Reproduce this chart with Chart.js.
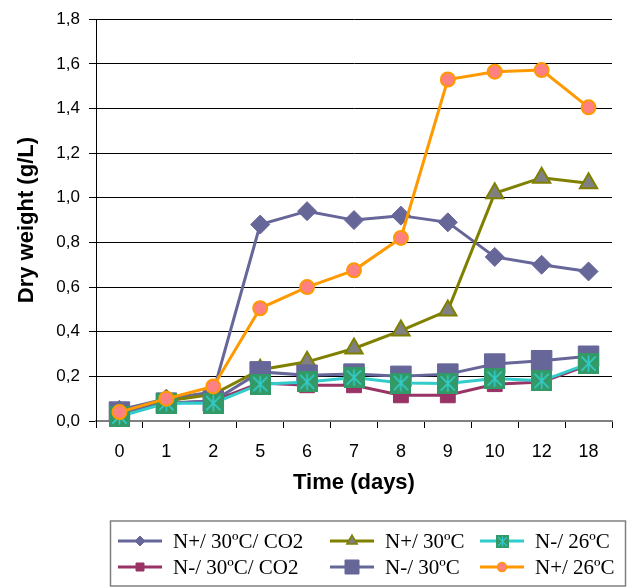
<!DOCTYPE html>
<html>
<head>
<meta charset="utf-8">
<script src="https://cdn.jsdelivr.net/npm/chart.js@4.4.0/dist/chart.umd.min.js"></script>
<style>
  html, body { margin: 0; padding: 0; background: #fff; }
  #wrap { width: 637px; height: 588px; }
</style>
</head>
<body>
<div id="wrap"><canvas id="c" width="637" height="588"></canvas></div>
<script>
// days on the x axis (category)
const days = ['0', '1', '2', '5', '6', '7', '8', '9', '10', '12', '18'];

// dry weight (g/L)
const nPlus30Co2  = [0.05, 0.10, 0.13, 0.88, 0.94, 0.90, 0.92, 0.89, 0.735, 0.70, 0.67];
const nMinus30Co2 = [0.03, 0.08, 0.09, 0.17, 0.16, 0.16, 0.115, 0.115, 0.165, 0.175, 0.25];
const nPlus30     = [0.03, 0.09, 0.12, 0.23, 0.265, 0.325, 0.405, 0.495, 1.02, 1.09, 1.065];
const nMinus30    = [0.04, 0.08, 0.09, 0.22, 0.205, 0.21, 0.20, 0.21, 0.255, 0.27, 0.29];
const nMinus26    = [0.02, 0.08, 0.08, 0.165, 0.175, 0.195, 0.17, 0.168, 0.19, 0.18, 0.257];
const nPlus26     = [0.04, 0.10, 0.155, 0.505, 0.60, 0.675, 0.82, 1.53, 1.565, 1.572, 1.405];

const seriesNames = ['N+/ 30ºC/ CO2', 'N-/ 30ºC/ CO2', 'N+/ 30ºC', 'N-/ 30ºC', 'N-/ 26ºC', 'N+/ 26ºC'];

const SANS = '"Liberation Sans", Arial, sans-serif';
const SERIF = '"Liberation Serif", "Times New Roman", serif';

function starBox(size) {
  const cv = document.createElement('canvas');
  cv.width = cv.height = size;
  const g = cv.getContext('2d');
  g.fillStyle = '#339966';
  g.fillRect(0, 0, size, size);
  g.strokeStyle = '#33CCCC';
  g.lineWidth = size > 16 ? 1.6 : 1.2;
  const m = size / 2, a = size * 0.34;
  g.beginPath();
  g.moveTo(m, m - a * 1.15); g.lineTo(m, m + a * 1.15);
  g.moveTo(m - a, m - a); g.lineTo(m + a, m + a);
  g.moveTo(m + a, m - a); g.lineTo(m - a, m + a);
  g.stroke();
  return cv;
}
const tealBig = starBox(21);
const tealSmall = starBox(13);

function mk(i, data, line, style, radius, fill, bw) {
  return {
    label: seriesNames[i],
    data: data,
    borderColor: line,
    borderWidth: 3,
    backgroundColor: fill,
    pointStyle: style,
    pointRadius: radius,
    pointBackgroundColor: fill,
    pointBorderColor: line,
    pointBorderWidth: bw,
    tension: 0,
    fill: false,
    clip: false,
    order: 10 - i
  };
}

const datasets = [
  mk(0, nPlus30Co2, '#666699', 'rectRot', 9.5, '#666699', 1),
  mk(1, nMinus30Co2, '#993366', 'rect', 10.5, '#993366', 1),
  mk(2, nPlus30, '#808000', 'triangle', 10, '#808080', 2),
  mk(3, nMinus30, '#666699', 'rect', 14.5, '#666699', 1),
  mk(4, nMinus26, '#33CCCC', tealBig, 10, '#339966', 1),
  mk(5, nPlus26, '#FF9900', 'circle', 7, '#FF8080', 2)
];

// legend marker sizes (half sizes)
const legendMarks = [
  { style: 'diamond', r: 5 },
  { style: 'square', r: 4 },
  { style: 'triangle', r: 6 },
  { style: 'square', r: 7 },
  { style: 'image', img: tealSmall },
  { style: 'circle', r: 4.5 }
];

function drawMark(c, m, ds, x, y) {
  c.fillStyle = ds.pointBackgroundColor;
  c.strokeStyle = ds.pointBorderColor;
  c.lineWidth = ds.pointBorderWidth > 1 ? 1.5 : 1;
  c.beginPath();
  if (m.style === 'diamond') {
    c.moveTo(x - m.r, y); c.lineTo(x, y - m.r); c.lineTo(x + m.r, y); c.lineTo(x, y + m.r); c.closePath();
  } else if (m.style === 'square') {
    c.rect(x - m.r, y - m.r, 2 * m.r, 2 * m.r);
  } else if (m.style === 'triangle') {
    c.moveTo(x, y - m.r); c.lineTo(x + m.r * 0.866, y + m.r * 0.5); c.lineTo(x - m.r * 0.866, y + m.r * 0.5); c.closePath();
  } else if (m.style === 'circle') {
    c.arc(x, y, m.r, 0, Math.PI * 2);
  } else {
    c.drawImage(m.img, Math.round(x - m.img.width / 2), Math.round(y - m.img.height / 2));
    return;
  }
  c.fill();
  c.stroke();
}

const legendBox = {
  id: 'legendBox',
  afterDraw(chart) {
    const c = chart.ctx;
    const colX = [118, 330, 480];
    const rowY = [541, 567];
    c.save();
    c.strokeStyle = '#808080';
    c.lineWidth = 1.5;
    c.strokeRect(110.5, 521, 515, 65);
    c.font = '21px ' + SERIF;
    c.textBaseline = 'middle';
    chart.data.datasets.forEach((ds, i) => {
      const x0 = colX[Math.floor(i / 2)], y = rowY[i % 2];
      c.strokeStyle = ds.borderColor;
      c.lineWidth = 3;
      c.beginPath();
      c.moveTo(x0, y); c.lineTo(x0 + 44, y);
      c.stroke();
      drawMark(c, legendMarks[i], ds, x0 + 22, y);
      c.fillStyle = '#000';
      c.fillText(ds.label, x0 + 55, y + 1);
    });
    c.restore();
  }
};

new Chart(document.getElementById('c'), {
  type: 'line',
  data: { labels: days, datasets: datasets },
  options: {
    responsive: false,
    animation: false,
    devicePixelRatio: 1,
    layout: { padding: { top: 17, right: 25, bottom: 88, left: 0 } },
    plugins: { legend: { display: false }, tooltip: { enabled: false } },
    scales: {
      x: {
        type: 'category',
        offset: true,
        grid: { offset: true, drawOnChartArea: false, drawTicks: true, tickLength: 7, color: '#000' },
        border: { color: '#808080', width: 2 },
        ticks: { color: '#000', font: { family: SANS, size: 18 }, padding: 13, maxRotation: 0, autoSkip: false },
        title: { display: true, text: 'Time (days)', color: '#000', font: { family: SANS, size: 22, weight: 'bold' }, padding: { top: 0, bottom: 4 } },
        afterFit: s => { s.height = 79; }
      },
      y: {
        min: 0,
        max: 1.8,
        ticks: {
          stepSize: 0.2,
          color: '#000',
          padding: 9,
          font: { family: SANS, size: 17 },
          callback: v => Number(v).toFixed(1).replace('.', ',')
        },
        grid: { color: '#000', lineWidth: 1, tickLength: 7 },
        border: { color: '#000', width: 1 },
        title: { display: true, text: 'Dry weight (g/L)', color: '#000', font: { family: SANS, size: 22, weight: 'bold' }, padding: { top: 14, bottom: 0 } },
        afterFit: s => { s.width = 96; }
      }
    }
  },
  plugins: [legendBox]
});
</script>
</body>
</html>
